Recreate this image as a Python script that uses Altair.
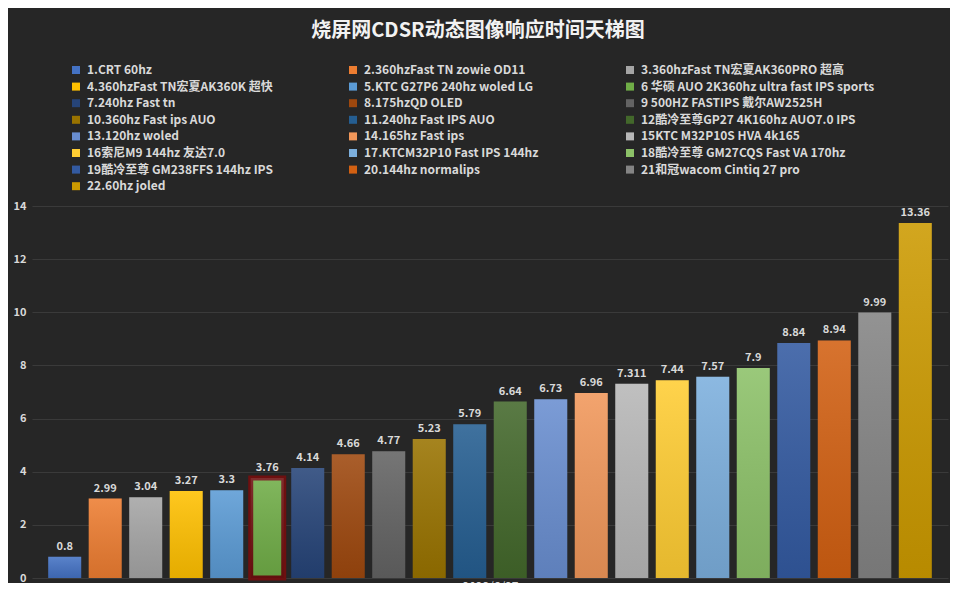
""" Response time ladder chart (dark Excel style) """

import altair as alt
import pandas as pd

# One category, 22 series
CATEGORY = "2023/6/27"

names = [
    "1.CRT 60hz",
    "2.360hzFast TN zowie OD11",
    "3.360hzFast TN宏夏AK360PRO 超高",
    "4.360hzFast TN宏夏AK360K 超快",
    "5.KTC G27P6 240hz woled LG",
    "6 华硕 AUO 2K360hz ultra fast IPS sports",
    "7.240hz Fast tn",
    "8.175hzQD OLED",
    "9 500HZ FASTIPS 戴尔AW2525H",
    "10.360hz Fast ips AUO",
    "11.240hz Fast IPS AUO",
    "12酷冷至尊GP27 4K160hz AUO7.0 IPS",
    "13.120hz woled",
    "14.165hz Fast ips",
    "15KTC M32P10S HVA 4k165",
    "16索尼M9 144hz 友达7.0",
    "17.KTCM32P10 Fast IPS 144hz",
    "18酷冷至尊 GM27CQS Fast VA 170hz",
    "19酷冷至尊 GM238FFS 144hz IPS",
    "20.144hz normalips",
    "21和冠wacom Cintiq 27 pro",
    "22.60hz joled",
]

values = [0.8, 2.99, 3.04, 3.27, 3.3, 3.76, 4.14, 4.66, 4.77, 5.23, 5.79,
          6.64, 6.73, 6.96, 7.311, 7.44, 7.57, 7.9, 8.84, 8.94, 9.99, 13.36]

colors = [
    "#4472C4", "#ED7D31", "#A5A5A5", "#FFC000", "#5B9BD5", "#70AD47",
    "#264478", "#9E480E", "#636363", "#997300", "#255E91", "#43682B",
    "#698ED0", "#F1975A", "#B7B7B7", "#FFCD33", "#7CAFDD", "#8CC168",
    "#335AA1", "#D26012", "#848484", "#CC9A00",
]

y_ticks = [0, 2, 4, 6, 8, 10, 12, 14]

HIGHLIGHT = names[5]
BG_COLOR = "#262626"
TEXT_COLOR = "#d9d9d9"
FONT = "Noto Sans CJK SC"

df = pd.DataFrame({
    "name": names,
    "value": values,
    "label": [str(v) for v in values],
})

# the single category is shown as the x axis title
x_enc = alt.X(
    "name:N",
    sort=names,
    scale=alt.Scale(domain=names, paddingInner=0.185, paddingOuter=0.4),
    axis=alt.Axis(title=CATEGORY, labels=False, ticks=False, domain=False,
                  titlePadding=3, titleColor=TEXT_COLOR, titleFontSize=12,
                  titleFont=FONT, titleFontWeight="normal"),
)
y_enc = alt.Y(
    "value:Q",
    scale=alt.Scale(domain=[0, 14]),
    axis=alt.Axis(title=None, values=y_ticks, ticks=False, domain=False,
                  labelColor=TEXT_COLOR, labelFontSize=11, labelFont=FONT,
                  labelFontWeight="bold", labelPadding=6,
                  gridColor="#3a3a3a", gridWidth=1),
)

base = alt.Chart(
    df,
    title=alt.Title(
        "烧屏网CDSR动态图像响应时间天梯图",
        font=FONT,
        fontSize=20,
        fontWeight="bold",
        color="#f2f2f2",
        anchor="middle",
        frame="group",
        offset=23,
        dx=-12,
    ),
)

bars = base.mark_bar(stroke="#6e1010").encode(
    x=x_enc,
    y=y_enc,
    color=alt.Color(
        "name:N",
        scale=alt.Scale(domain=names, range=colors),
        legend=alt.Legend(
            title=None,
            orient="none",
            direction="horizontal",
            legendX=38,
            legendY=-142,
            columns=3,
            gridAlign="all",
            columnPadding=26,
            rowPadding=4.6,
            symbolType="square",
            symbolSize=64,
            symbolStrokeWidth=0,
            labelOffset=5,
            labelLimit=400,
            labelFont=FONT,
            labelFontSize=12,
            labelFontWeight="bold",
            labelColor=TEXT_COLOR,
        ),
    ),
    strokeWidth=alt.condition(alt.datum.name == HIGHLIGHT, alt.value(5), alt.value(0)),
)

# soft vertical shading on every bar
shade = base.mark_bar(
    fill=alt.LinearGradient(
        gradient="linear",
        stops=[
            alt.GradientStop(color="rgba(255,255,255,0.12)", offset=0),
            alt.GradientStop(color="rgba(0,0,0,0.10)", offset=1),
        ],
        x1=0, x2=0, y1=0, y2=1,
    )
).encode(x=x_enc, y=y_enc)

labels = base.mark_text(
    baseline="bottom", dy=-5, font=FONT, fontSize=11, fontWeight="bold",
    color=TEXT_COLOR,
).encode(x=x_enc, y=y_enc, text="label:N")

chart = (
    (bars + shade + labels)
    .properties(
        width=916,
        height=372,
        padding={"left": 24, "top": 198, "right": 2, "bottom": 5},
        autosize=alt.AutoSizeParams(type="none"),
        background=BG_COLOR,
    )
    .configure_view(stroke=None)
)

chart.save("out.html", embed_options={"renderer": "svg", "actions": False})
